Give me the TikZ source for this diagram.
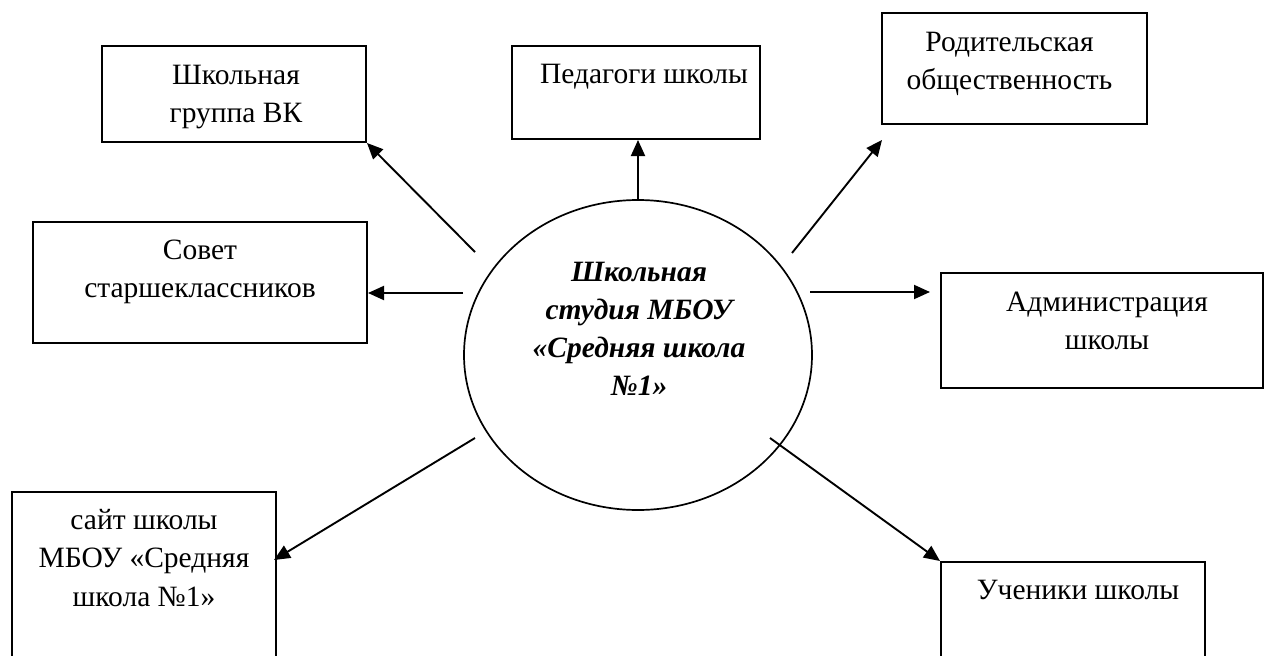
\documentclass[tikz,border=0pt]{standalone}
\usepackage{fontspec}
\setmainfont{Liberation Serif}
\usetikzlibrary{arrows.meta,shapes.geometric}
\newcommand\mlines[1]{\vtop{\halign{\hfil##\hfil\cr#1\crcr}}}
\begin{document}
\begin{tikzpicture}[x=1pt,y=-1pt,
  box/.style 2 args={draw,line width=2pt,inner sep=0,minimum width=#1,minimum height=#2},
  lbl/.style={anchor=base,inner sep=0,font=\fontsize{29.5}{38.5}\selectfont},
  ctr/.style={anchor=base,inner sep=0,font=\fontsize{29.5}{38}\selectfont\bfseries\itshape},
  hub/.style={draw,ellipse,line width=1.7pt,inner sep=0,minimum width=348,minimum height=310},
  arr/.style={line width=1.9pt,-{Triangle[length=16pt,width=14pt]}}]
\useasboundingbox (0,0) rectangle (1264,656);
\fill[white] (0,0) rectangle (1264,656);
\clip (0,0) rectangle (1264,656);
% boxes
\node[box={264}{96}] (vk) at (234,94) {};
\node[box={248}{93}] (ped) at (636,92.5) {};
\node[box={265}{111}] (rod) at (1014.5,68.5) {};
\node[box={334}{121}] (sov) at (200,282.5) {};
\node[box={322}{115}] (adm) at (1102,330.5) {};
\node[box={264}{150}] (uch) at (1073,637) {};
\node[box={264}{208}] (sait) at (144,596) {};
% labels
\node[lbl] (vkt) at ([yshift=-39pt,xshift=2pt]vk.north) {\mlines{Школьная\cr группа ВК}};
\node[lbl] (pedt) at ([yshift=-38pt,xshift=8pt]ped.north) {\mlines{Педагоги школы}};
\node[lbl] (rodt) at ([yshift=-39pt,xshift=-5pt]rod.north) {\mlines{Родительская\cr общественность}};
\node[lbl] (sovt) at ([yshift=-38pt]sov.north) {\mlines{Совет\cr старшеклассников}};
\node[lbl] (admt) at ([yshift=-39pt,xshift=5pt]adm.north) {\mlines{Администрация\cr школы}};
\node[lbl] (ucht) at ([yshift=-38pt,xshift=5pt]uch.north) {\mlines{Ученики школы}};
\node[lbl] (saitt) at ([yshift=-38pt]sait.north) {\mlines{сайт школы\cr МБОУ «Средняя\cr школа №1»}};
% hub
\node[hub] (hub) at (638,355) {};
\node[ctr] (hubt) at (639,281) {\mlines{Школьная\cr студия МБОУ\cr «Средняя школа\cr №1»}};
% connector ends
\coordinate (s-vk) at (475,252);
\coordinate (s-rod) at (792,253);
\coordinate (t-rod) at (882,140);
\coordinate (s-sov) at (463,293);
\coordinate (s-adm) at (810,292);
\coordinate (t-adm) at (930,292);
\coordinate (s-uch) at (770,438);
\coordinate (s-sait) at (475,438);
\coordinate (t-sait) at (274,560);
% connectors
\draw[arr] (s-vk) -- (vk.south east);
\draw[arr] (hub.north) -- (ped.south -| hub.north);
\draw[arr] (s-rod) -- (t-rod);
\draw[arr] (s-sov) -- (s-sov -| sov.east);
\draw[arr] (s-adm) -- (t-adm);
\draw[arr] (s-uch) -- (uch.north west);
\draw[arr] (s-sait) -- (t-sait);
\end{tikzpicture}
\end{document}
